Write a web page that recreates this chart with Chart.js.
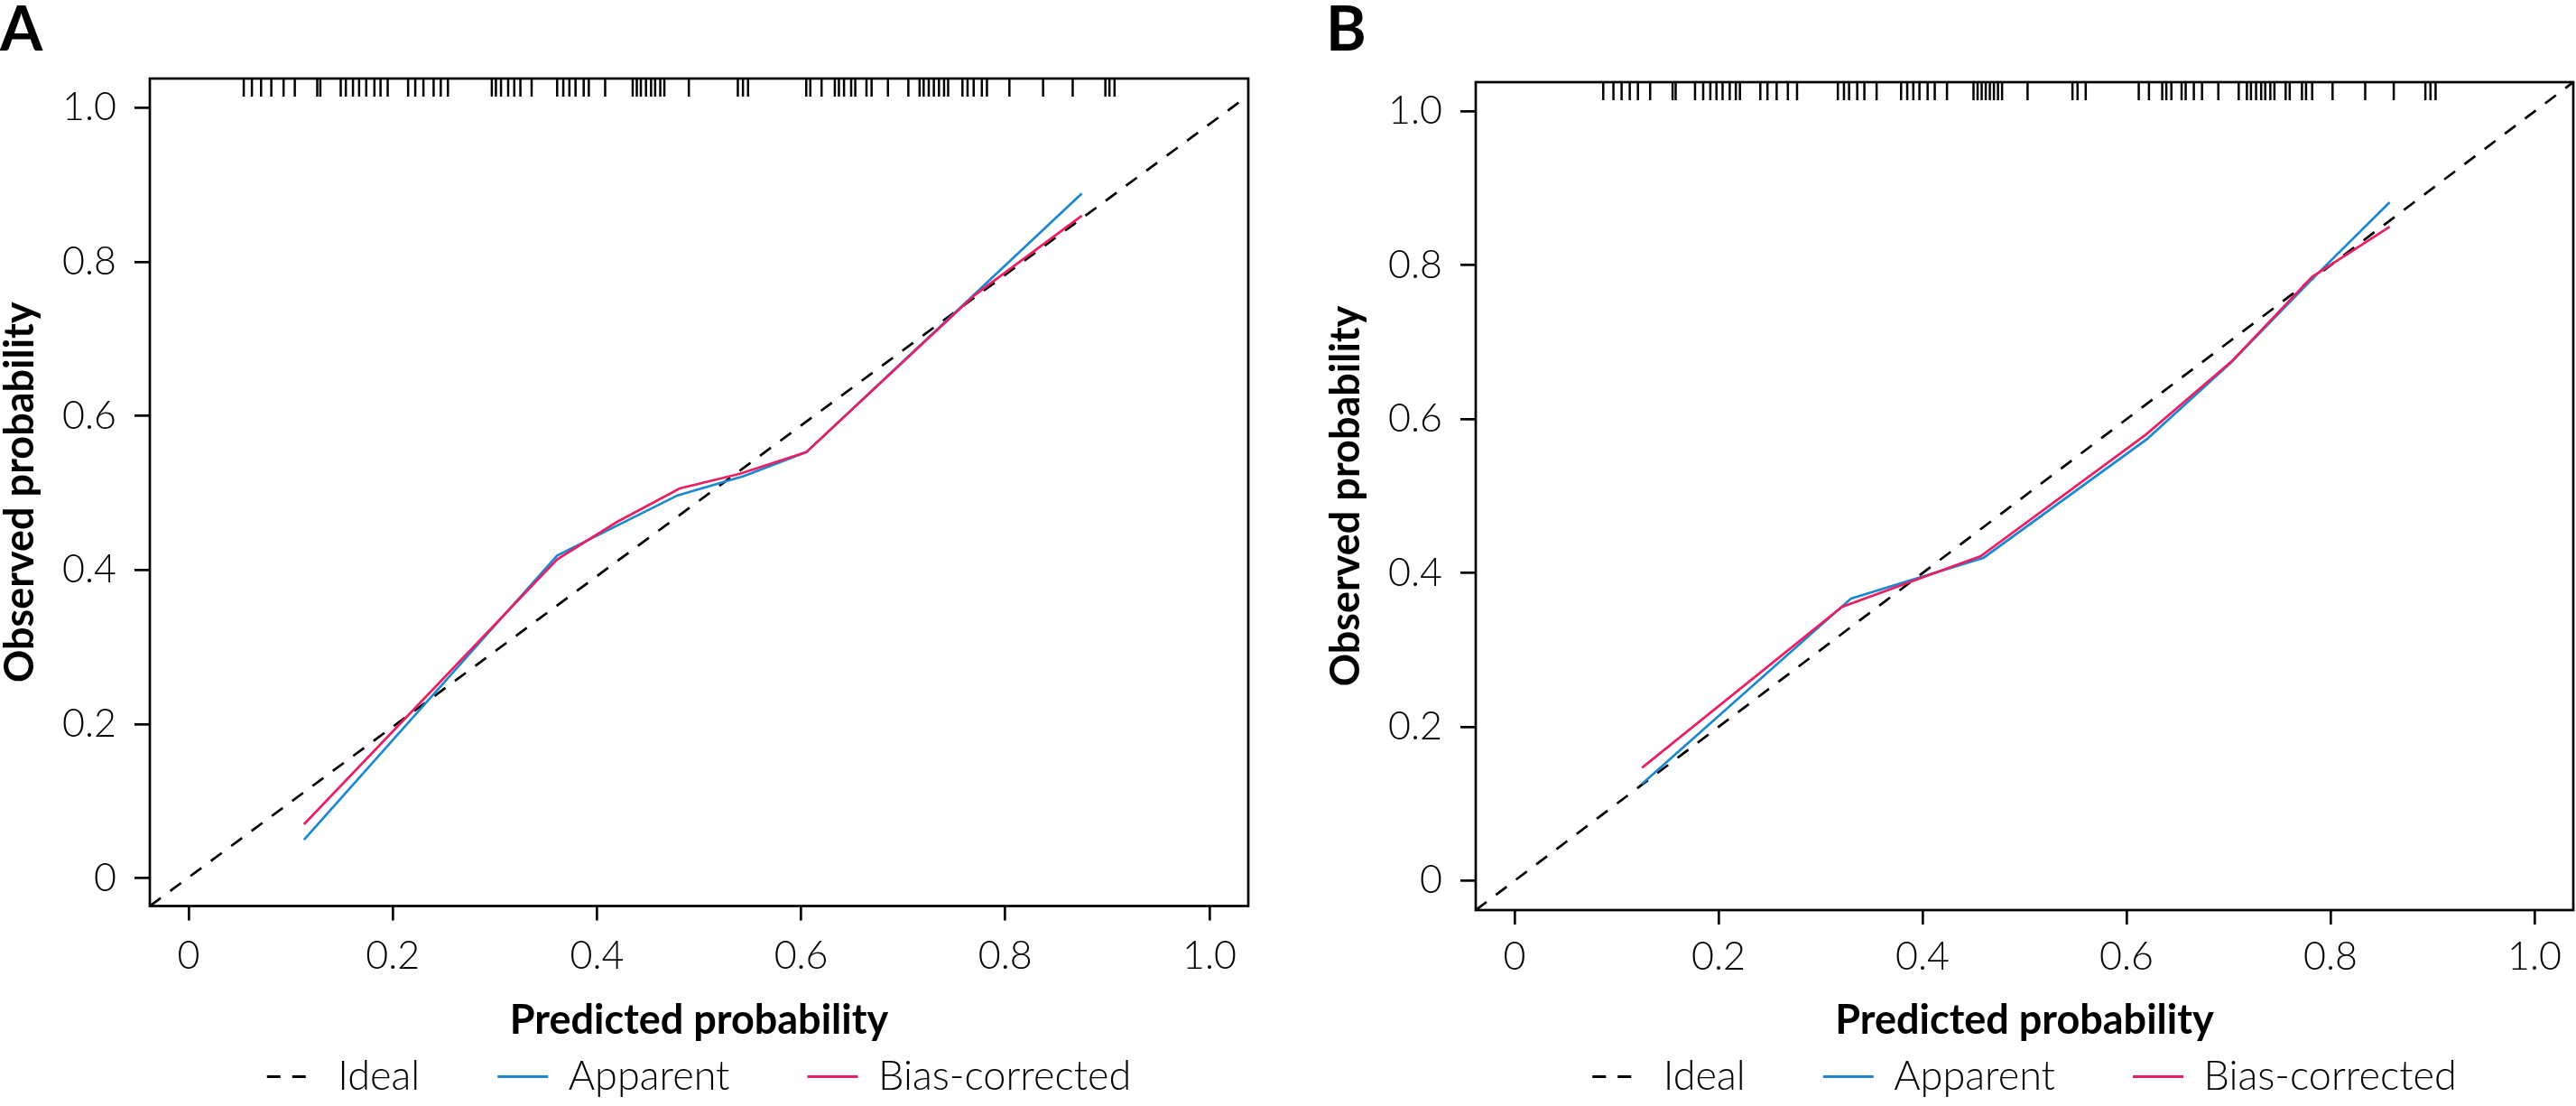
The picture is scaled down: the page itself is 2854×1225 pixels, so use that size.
<!DOCTYPE html>
<html>
<head>
<meta charset="utf-8">
<script src="https://cdn.jsdelivr.net/npm/chart.js@4.4.1/dist/chart.umd.min.js"></script>
<style>
    html, body { margin: 0; padding: 0; background: #fff; }
    #painel { display: flex; width: 2854px; height: 1225px; }
    canvas { display: block; }
</style>
</head>
<body>
<div id="painel">
    <canvas id="graficoA" width="1427" height="1225"></canvas>
    <canvas id="graficoB" width="1427" height="1225"></canvas>
</div>
<script>
/* ================================
      DADOS
================================ */
const ticksValores = [0, 0.2, 0.4, 0.6, 0.8, 1.0];
const ticksRotulos = ["0", "0.2", "0.4", "0.6", "0.8", "1.0"];
const rotulosLegenda = ["Ideal", "Apparent", "Bias-corrected"];

// Painel A
const idealA_x = [-0.038, 1.038];
const idealA_y = [-0.036, 1.016];
const aparenteA_x = [0.113, 0.361, 0.479, 0.544, 0.605, 0.875];
const aparenteA_y = [0.050, 0.419, 0.497, 0.522, 0.553, 0.889];
const corrigidoA_x = [0.113, 0.361, 0.419, 0.481, 0.540, 0.605, 0.770, 0.875];
const corrigidoA_y = [0.070, 0.414, 0.462, 0.506, 0.525, 0.553, 0.757, 0.860];
const rugA = [0.054, 0.062, 0.071, 0.081, 0.093, 0.104, 0.126, 0.129, 0.149, 0.154,
    0.161, 0.167, 0.174, 0.182, 0.188, 0.195, 0.215, 0.222, 0.230, 0.240, 0.247, 0.254,
    0.297, 0.301, 0.306, 0.313, 0.319, 0.325, 0.336, 0.361, 0.367, 0.373, 0.379, 0.387,
    0.392, 0.408, 0.435, 0.439, 0.443, 0.448, 0.453, 0.457, 0.462, 0.466, 0.490, 0.538,
    0.543, 0.548, 0.605, 0.609, 0.620, 0.633, 0.637, 0.642, 0.649, 0.653, 0.664, 0.669,
    0.685, 0.705, 0.716, 0.720, 0.725, 0.730, 0.735, 0.740, 0.744, 0.758, 0.763, 0.769,
    0.777, 0.782, 0.804, 0.837, 0.866, 0.898, 0.902, 0.907];

// Painel B
const idealB_x = [-0.038, 1.038];
const idealB_y = [-0.038, 1.038];
const aparenteB_x = [0.125, 0.330, 0.460, 0.620, 0.702, 0.782, 0.858];
const aparenteB_y = [0.126, 0.367, 0.420, 0.574, 0.673, 0.782, 0.882];
const corrigidoB_x = [0.125, 0.321, 0.457, 0.619, 0.703, 0.782, 0.858];
const corrigidoB_y = [0.147, 0.356, 0.422, 0.580, 0.675, 0.785, 0.850];
const rugB = [0.087, 0.097, 0.105, 0.113, 0.121, 0.133, 0.155, 0.158, 0.177, 0.185,
    0.192, 0.198, 0.204, 0.211, 0.217, 0.221, 0.241, 0.248, 0.257, 0.268, 0.277, 0.317,
    0.323, 0.328, 0.336, 0.343, 0.355, 0.379, 0.385, 0.391, 0.397, 0.405, 0.412, 0.424,
    0.450, 0.454, 0.458, 0.462, 0.466, 0.470, 0.474, 0.478, 0.503, 0.547, 0.552, 0.560,
    0.612, 0.622, 0.635, 0.639, 0.644, 0.654, 0.658, 0.666, 0.674, 0.690, 0.710, 0.718,
    0.722, 0.727, 0.732, 0.736, 0.741, 0.745, 0.756, 0.760, 0.772, 0.776, 0.782, 0.802,
    0.834, 0.862, 0.893, 0.898, 0.903];

/* ================================
      ESTILO GERAL
================================ */
Chart.defaults.font.family = "Lato, 'Noto Sans', sans-serif";
Chart.defaults.color = "#000";

const COR_APARENTE = "#1b87d2";
const COR_CORRIGIDO = "#e91e63";
const TAM_RUG = 0.0235;

// moldura em volta da área do gráfico (estilo R, bty = "o")
const moldura = {
    id: "moldura",
    afterDatasetsDraw(chart) {
        const { ctx, chartArea: a } = chart;
        ctx.save();
        ctx.strokeStyle = "#000";
        ctx.lineWidth = 2.7;
        ctx.strokeRect(a.left, a.top, a.right - a.left, a.bottom - a.top);
        ctx.restore();
    }
};

function montarPontos(xs, ys) {
    return xs.map((x, i) => ({ x: x, y: ys[i] }));
}

// cada traço do rug vira um segmento vertical, separado por um ponto nulo
function montarRug(valores, topo) {
    const pontos = [];
    valores.forEach(v => {
        pontos.push({ x: v, y: topo });
        pontos.push({ x: v, y: topo - TAM_RUG });
        pontos.push({ x: v, y: null });
    });
    return pontos;
}

// legenda com o tracejado e a espessura da própria linha do dataset
function gerarLegenda(chart) {
    const itens = Chart.defaults.plugins.legend.labels.generateLabels(chart);
    return itens.map(item => {
        const ds = chart.data.datasets[item.datasetIndex];
        item.lineDash = ds.borderDash || [];
        item.lineWidth = 3;
        item.strokeStyle = ds.borderColor;
        return item;
    });
}

/* ================================
      GRÁFICO DE CALIBRAÇÃO
================================ */
function criarGrafico(id, letra, dados, cfg) {
    const ctx = document.getElementById(id);
    const fonteTicks = { size: 43, weight: "300", lineHeight: 1.2 };
    const fonteTitulo = { size: 45, weight: "bold", lineHeight: 1 };

    return new Chart(ctx, {
        type: "scatter",
        data: {
            datasets: [{
                label: rotulosLegenda[0],
                data: montarPontos(dados.idealX, dados.idealY),
                showLine: true,
                borderColor: "#000",
                borderWidth: 2.7,
                borderDash: [15, 13],
                pointRadius: 0,
                order: 3
            }, {
                label: rotulosLegenda[1],
                data: montarPontos(dados.aparenteX, dados.aparenteY),
                showLine: true,
                borderColor: COR_APARENTE,
                borderWidth: 2.7,
                pointRadius: 0,
                order: 2
            }, {
                label: rotulosLegenda[2],
                data: montarPontos(dados.corrigidoX, dados.corrigidoY),
                showLine: true,
                borderColor: COR_CORRIGIDO,
                borderWidth: 2.7,
                pointRadius: 0,
                order: 1
            }, {
                label: "rug",
                data: montarRug(dados.rug, cfg.yMax),
                showLine: true,
                spanGaps: false,
                borderColor: "#000",
                borderWidth: 2.5,
                pointRadius: 0,
                order: 4
            }]
        },
        options: {
            responsive: false,
            devicePixelRatio: 1,
            animation: false,
            events: [],
            layout: {
                padding: { left: cfg.padEsq, right: cfg.padDir, top: 0, bottom: 0 }
            },
            scales: {
                x: {
                    type: "linear",
                    min: cfg.xMin,
                    max: cfg.xMax,
                    afterBuildTicks: escala => { escala.ticks = ticksValores.map(v => ({ value: v })); },
                    afterFit: escala => { escala.height = cfg.alturaX; },
                    ticks: {
                        callback: valor => ticksRotulos[ticksValores.indexOf(valor)],
                        font: fonteTicks,
                        padding: cfg.padTickX,
                        maxRotation: 0,
                        autoSkip: false
                    },
                    grid: {
                        drawOnChartArea: false,
                        drawTicks: true,
                        tickLength: 16,
                        lineWidth: 2.7,
                        color: "#000"
                    },
                    border: { display: false },
                    title: {
                        display: true,
                        text: "Predicted probability",
                        font: fonteTitulo,
                        padding: { top: 0, bottom: -68.5 }
                    }
                },
                y: {
                    type: "linear",
                    min: cfg.yMin,
                    max: cfg.yMax,
                    afterBuildTicks: escala => { escala.ticks = ticksValores.map(v => ({ value: v })); },
                    afterFit: escala => { escala.width = 166; },
                    ticks: {
                        callback: valor => ticksRotulos[ticksValores.indexOf(valor)],
                        font: fonteTicks,
                        padding: 20,
                        autoSkip: false
                    },
                    grid: {
                        drawOnChartArea: false,
                        drawTicks: true,
                        tickLength: 17,
                        lineWidth: 2.7,
                        color: "#000"
                    },
                    border: { display: false },
                    title: {
                        display: true,
                        text: "Observed probability",
                        font: fonteTitulo,
                        padding: { top: 0, bottom: 0 }
                    }
                }
            },
            plugins: {
                title: {
                    display: true,
                    text: letra,
                    align: "start",
                    color: "#000",
                    font: { size: 68, weight: "bold", lineHeight: 1 },
                    padding: { top: 0, bottom: cfg.padLetra }
                },
                legend: {
                    position: "bottom",
                    fullSize: false,
                    labels: {
                        usePointStyle: true,
                        pointStyle: "line",
                        pointStyleWidth: 56,
                        padding: 86,
                        color: "#000",
                        font: { size: 45, weight: "300" },
                        generateLabels: gerarLegenda,
                        filter: item => item.datasetIndex < 3,
                        sort: (a, b) => a.datasetIndex - b.datasetIndex
                    }
                },
                tooltip: { enabled: false }
            }
        },
        plugins: [moldura]
    });
}

criarGrafico("graficoA", "A", {
    idealX: idealA_x, idealY: idealA_y,
    aparenteX: aparenteA_x, aparenteY: aparenteA_y,
    corrigidoX: corrigidoA_x, corrigidoY: corrigidoA_y,
    rug: rugA
}, { padEsq: 0, padDir: 44, padLetra: 19, alturaX: 80.5, padTickX: 14,
     xMin: -0.038, xMax: 1.038, yMin: -0.036, yMax: 1.038 });

criarGrafico("graficoB", "B", {
    idealX: idealB_x, idealY: idealB_y,
    aparenteX: aparenteB_x, aparenteY: aparenteB_y,
    corrigidoX: corrigidoB_x, corrigidoY: corrigidoB_y,
    rug: rugB
}, { padEsq: 42, padDir: 3, padLetra: 23, alturaX: 76, padTickX: 10,
     xMin: -0.038, xMax: 1.038, yMin: -0.038, yMax: 1.038 });
</script>
</body>
</html>
